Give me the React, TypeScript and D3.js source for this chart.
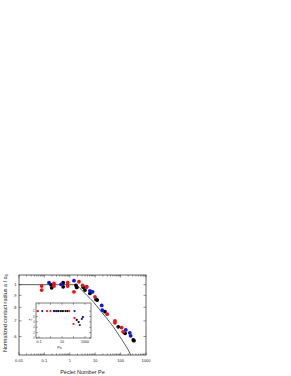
import React, { useEffect, useRef } from "react";
import * as d3 from "d3";

// main panel: [Pe, a/a0]
const redPts: [number, number][] = [
  [0.078, 0.986], [0.078, 0.948], [0.239, 1.012], [0.239, 0.986],
  [0.83, 1.019], [0.83, 0.986], [1.46, 0.932], [2.3, 1.029],
  [3.2, 0.993], [4.6, 0.979], [9.8, 0.887], [29.7, 0.748],
  [60, 0.7], [60, 0.687], [110, 0.655], [125, 0.628],
];
const bluePts: [number, number][] = [
  [0.152, 1.019], [0.45, 1.003], [1.46, 1.04], [4.6, 0.979],
  [6.2, 0.941], [7.9, 0.932], [18, 0.815], [19, 0.778],
  [160, 0.64], [230, 0.622], [250, 0.604],
];
const blackPts: [number, number][] = [
  [0.182, 1.0], [0.194, 0.969], [0.55, 1.019], [0.55, 0.979],
  [1.76, 0.993], [1.88, 0.973], [3.4, 0.975], [3.96, 0.948],
  [6.2, 0.917], [10.8, 0.865], [12, 0.859], [24.3, 0.766],
  [81, 0.66], [150, 0.619], [316, 0.58], [336, 0.576],
];
// theory curve
const theoryPe = [0.01, 1.7, 2.52, 4.62, 8.4, 15.5, 28.4, 51.7, 94.6, 174, 234, 270];
const theoryA = [1, 1, 0.964, 0.902, 0.845, 0.778, 0.718, 0.66, 0.598, 0.539, 0.508, 0.49];

const xTicks = [0.01, 0.1, 1, 10, 100, 1000];
const xTickLabels = ["0.01", "0.1", "1", "10", "100", "1000"];
const yTicks = [1, 0.9, 0.8, 0.7, 0.6];
const yTickLabels = ["1", ".9", ".8", ".7", ".6"];

// inset: [Pe, value]
const insetRed: [number, number][] = [[0.08, 1], [0.5, 1], [1, 1], [43, 1], [100, 0.52], [123, 0.74]];
const insetBlue: [number, number][] = [[0.19, 1], [3, 1], [123, 1], [350, 0.48], [530, 0.71]];
const insetBlack: [number, number][] = [
  [2, 1], [3.5, 1], [5, 1], [8, 1], [12, 1], [20, 1], [30, 1],
  [190, 0.67], [280, 0.59], [660, 0.78],
];
const insetXTicks = [0.1, 10, 1000];
const insetXTickLabels = ["0.1", "10", "1000"];
const insetYTicks = [1, 0.8, 0.6, 0.4, 0.2, 0];
const insetYTickLabels = ["1", ".8", ".6", ".4", ".2", "0"];

const App = () => {
  const ref = useRef<SVGSVGElement>(null);
  useEffect(() => {
    const svg = d3.select(ref.current);
    svg.selectAll("*").remove();
    const font = "Liberation Sans, Arial, sans-serif";
    const L = 19, R = 146, T = 275, B = 355;

    const x = d3.scaleLog().domain([0.01, 1000]).range([L, R]);
    const y = d3.scaleLog().domain([0.5, 1.1]).range([B, T]);

    svg.append("clipPath").attr("id", "clipMain")
      .append("rect").attr("x", L).attr("y", T).attr("width", R - L).attr("height", B - T);

    // minor + major ticks on x (bottom & top, inward)
    const minor: number[] = [];
    for (let e = -2; e < 3; e++) for (let k = 1; k < 10; k++) minor.push(k * Math.pow(10, e));
    minor.push(1000);
    const tk = svg.append("g").attr("stroke", "#222").attr("stroke-width", 0.5);
    minor.forEach((v) => {
      const major = xTicks.includes(v);
      const len = major ? 2.5 : 1.5;
      tk.append("line").attr("x1", x(v)).attr("x2", x(v)).attr("y1", B).attr("y2", B - len);
      tk.append("line").attr("x1", x(v)).attr("x2", x(v)).attr("y1", T).attr("y2", T + len);
    });
    yTicks.forEach((v) => {
      tk.append("line").attr("x1", L).attr("x2", L + 2.5).attr("y1", y(v)).attr("y2", y(v));
      tk.append("line").attr("x1", R).attr("x2", R - 2.5).attr("y1", y(v)).attr("y2", y(v));
    });

    svg.append("g").selectAll("text").data(xTicks).enter().append("text")
      .attr("x", (d) => x(d)).attr("y", B + 6.5).attr("text-anchor", "middle")
      .attr("font-size", 4).attr("font-family", font).attr("fill", "#222")
      .text((d, i) => xTickLabels[i]);
    svg.append("g").selectAll("text").data(yTicks).enter().append("text")
      .attr("x", L - 2.5).attr("y", (d) => y(d) + 1.4).attr("text-anchor", "end")
      .attr("font-size", 4).attr("font-family", font).attr("fill", "#222")
      .text((d, i) => yTickLabels[i]);

    svg.append("text").attr("x", (L + R) / 2).attr("y", 374).attr("text-anchor", "middle")
      .attr("font-size", 5.5).attr("font-family", font).attr("fill", "#222")
      .text("Péclet Number Pe");
    const yt = svg.append("text").attr("transform", `translate(6.5,${(T + B) / 2 - 2}) rotate(-90)`)
      .attr("text-anchor", "middle").attr("font-size", 5.5).attr("font-family", font).attr("fill", "#222");
    yt.append("tspan").text("Normalized contact radius a / a");
    yt.append("tspan").attr("font-size", 4).attr("dy", 1.2).text("0");

    // theory line
    const line = d3.line<number>()
      .x((d, i) => x(theoryPe[i]))
      .y((d) => y(d))
      .curve(d3.curveMonotoneX);
    svg.append("path").attr("d", line(theoryA)).attr("fill", "none")
      .attr("stroke", "#333").attr("stroke-width", 0.8).attr("clip-path", "url(#clipMain)");

    const dots = (data: [number, number][], color: string) =>
      svg.append("g").selectAll("circle").data(data).enter().append("circle")
        .attr("cx", (d) => x(d[0])).attr("cy", (d) => y(d[1])).attr("r", 1.9).attr("fill", color);
    dots(blackPts, "#000");
    dots(bluePts, "#1414e6");
    dots(redPts, "#f01010");

    svg.append("rect").attr("x", L).attr("y", T).attr("width", R - L).attr("height", B - T)
      .attr("fill", "none").attr("stroke", "#222").attr("stroke-width", 0.7);

    // inset
    const iL = 36, iR = 91, iT = 303, iB = 338;
    const xi = d3.scaleLog().domain([0.1, 1000]).range([39, 85]);
    const yi = d3.scaleLinear().domain([0, 1.3]).range([iB, iT]);
    svg.append("rect").attr("x", iL).attr("y", iT).attr("width", iR - iL).attr("height", iB - iT)
      .attr("fill", "#fff").attr("stroke", "#222").attr("stroke-width", 0.6);
    const it = svg.append("g").attr("stroke", "#222").attr("stroke-width", 0.45);
    [0.1, 1, 10, 100, 1000].forEach((v) => {
      it.append("line").attr("x1", xi(v)).attr("x2", xi(v)).attr("y1", iB).attr("y2", iB - 1.8);
      it.append("line").attr("x1", xi(v)).attr("x2", xi(v)).attr("y1", iT).attr("y2", iT + 1.8);
    });
    insetYTicks.forEach((v) => {
      it.append("line").attr("x1", iL).attr("x2", iL + 1.8).attr("y1", yi(v)).attr("y2", yi(v));
      it.append("line").attr("x1", iR).attr("x2", iR - 1.8).attr("y1", yi(v)).attr("y2", yi(v));
    });
    svg.append("g").selectAll("text").data(insetXTicks).enter().append("text")
      .attr("x", (d) => xi(d)).attr("y", iB + 5).attr("text-anchor", "middle")
      .attr("font-size", 3.6).attr("font-family", font).attr("fill", "#222")
      .text((d, i) => insetXTickLabels[i]);
    svg.append("g").selectAll("text").data(insetYTicks).enter().append("text")
      .attr("x", iL - 1.2).attr("y", (d) => yi(d) + 1.2).attr("text-anchor", "end")
      .attr("font-size", (d) => (d === 1 ? 3.6 : 2.6)).attr("font-family", font).attr("fill", "#444")
      .text((d, i) => insetYTickLabels[i]);
    svg.append("text").attr("x", (iL + iR) / 2 - 4).attr("y", iB + 10.5).attr("text-anchor", "middle")
      .attr("font-size", 3.6).attr("font-family", font).attr("fill", "#222").text("Pe");
    svg.append("text").attr("transform", `translate(${iL - 4.5},${(iT + iB) / 2 - 1}) rotate(-90)`)
      .attr("text-anchor", "middle").attr("font-size", 4.2).attr("font-family", font).attr("fill", "#222")
      .text("ζ");

    const idots = (data: [number, number][], color: string) =>
      svg.append("g").selectAll("circle").data(data).enter().append("circle")
        .attr("cx", (d) => xi(d[0])).attr("cy", (d) => yi(d[1])).attr("r", 1.1).attr("fill", color);
    idots(insetBlack, "#000");
    idots(insetBlue, "#1414e6");
    idots(insetRed, "#f01010");
  }, []);

  return (
    <svg ref={ref} width={291} height={376}
      style={{ position: "absolute", left: 0, top: 0, background: "#fff" }} />
  );
};

export default App;
